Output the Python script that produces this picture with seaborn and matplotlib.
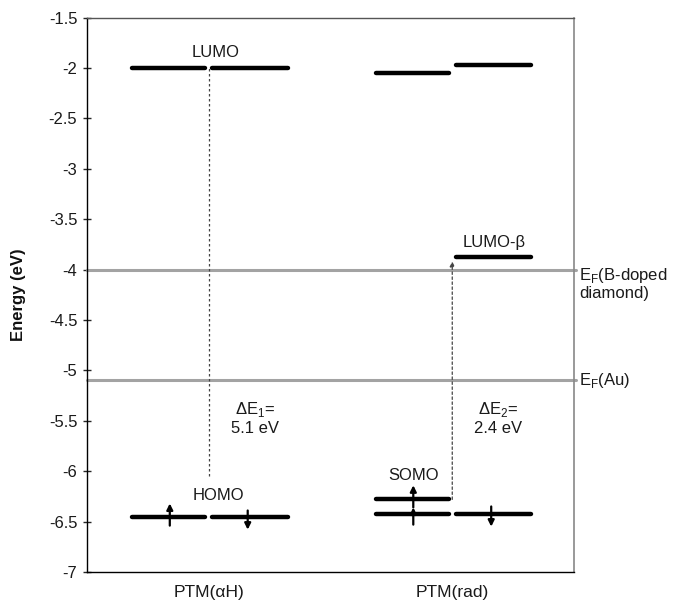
import matplotlib
matplotlib.use("Agg")
import matplotlib.pyplot as plt
import seaborn as sns
import pandas as pd
import numpy as np

# ---- data ----
categories = ["PTM(αH)", "PTM(rad)"]
level_names = ["LUMO-a", "LUMO-b", "HOMO-a", "HOMO-b",
               "LUMOa-rad", "LUMOb-rad", "LUMO-beta", "SOMO", "low-a-rad", "low-b-rad"]
level_cat = [0, 0, 0, 0, 1, 1, 1, 1, 1, 1]
level_side = ["L", "R", "L", "R", "L", "R", "R", "L", "L", "R"]
level_energy = [-2.0, -2.0, -6.45, -6.45, -2.05, -1.97, -3.88, -6.28, -6.42, -6.42]

fermi_levels = [-4.0, -5.1]
fermi_labels = ["E$_\\mathregular{F}$(B-doped\ndiamond)", "E$_\\mathregular{F}$(Au)"]

electron_cat = [0, 0, 1, 1, 1]
electron_side = ["L", "R", "L", "L", "R"]
electron_start = [-6.54, -6.39, -6.53, -6.36, -6.35]
electron_end = [-6.32, -6.58, -6.36, -6.14, -6.55]

gap_cat = [0, 1]
gap_bottom = [-6.05, -6.28]
gap_top = [-2.0, -3.92]
gap_labels = ["ΔE$_\\mathregular{1}$=\n5.1 eV", "ΔE$_\\mathregular{2}$=\n2.4 eV"]

level_labels = ["LUMO", "HOMO", "LUMO-β", "SOMO"]
level_label_cat = [0, 0, 1, 1]
level_label_dx = [0.03, 0.04, 0.17, -0.16]
level_label_y = [-1.85, -6.24, -3.73, -6.04]

yticks = [-1.5, -2, -2.5, -3, -3.5, -4, -4.5, -5, -5.5, -6, -6.5, -7]
ytick_labels = ["-1.5", "-2", "-2.5", "-3", "-3.5", "-4", "-4.5", "-5", "-5.5", "-6", "-6.5", "-7"]

# ---- style ----
sns.set_theme(style="white")
plt.rcParams["font.family"] = ["Liberation Sans", "DejaVu Sans"]
plt.rcParams["mathtext.fontset"] = "custom"
plt.rcParams["mathtext.rm"] = "Liberation Sans"

FS = 12
fig = plt.figure(figsize=(6.82, 6.02), dpi=100)
ax = fig.add_axes([87 / 682, 1 - 572 / 602, (574 - 87) / 682, (572 - 17.5) / 602])

side_span = {"L": (-0.315, -0.015), "R": (0.015, 0.325)}
side_center = {"L": -0.16, "R": 0.16}

rows = []
for name, c, s, e in zip(level_names, level_cat, level_side, level_energy):
    x0, x1 = side_span[s]
    rows.append({"level": name, "x": c + 1 + x0, "E": e})
    rows.append({"level": name, "x": c + 1 + x1, "E": e})
df = pd.DataFrame(rows)

sns.lineplot(data=df, x="x", y="E", units="level", estimator=None,
             color="black", lw=3.2, solid_capstyle="round", ax=ax, legend=False)

# Fermi levels
for e, lab in zip(fermi_levels, fermi_labels):
    ax.axhline(e, color="#a3a3a3", lw=2.2, zorder=1, xmax=1.005, clip_on=False)
    ax.text(1.01, e + 0.04 if "\n" in lab else e, lab, transform=ax.get_yaxis_transform(),
            ha="left", va="top" if "\n" in lab else "center", fontsize=FS,
            linespacing=1.15, color="#1a1a1a")

# gap dashed lines
for c, b, t, lab in zip(gap_cat, gap_bottom, gap_top, gap_labels):
    x = c + 1
    if c == 1:
        ax.annotate("", xy=(x, t), xytext=(x, b),
                    arrowprops=dict(arrowstyle="-|>", lw=0.9, ls=(0, (2, 2)),
                                    color="#444444", mutation_scale=7, shrinkA=0, shrinkB=0))
    else:
        ax.plot([x, x], [b, t], color="#444444", lw=0.9, ls=(0, (2, 2)))
    ax.text(x + 0.19, -5.47, lab, ha="center", va="center", fontsize=FS,
            linespacing=1.2, color="#1a1a1a")

# electrons
for c, s, a, b in zip(electron_cat, electron_side, electron_start, electron_end):
    x = c + 1 + side_center[s]
    ax.annotate("", xy=(x, b), xytext=(x, a),
                arrowprops=dict(arrowstyle="-|>", lw=1.6, color="black",
                                mutation_scale=9, shrinkA=0, shrinkB=0))

# level labels
for lab, c, dx, y in zip(level_labels, level_label_cat, level_label_dx, level_label_y):
    ax.text(c + 1 + dx, y, lab, ha="center", va="center", fontsize=FS, color="#1a1a1a")

ax.set_xlim(0.5, 2.5)
ax.set_ylim(-7, -1.5)
ax.set_xticks([1, 2])
ax.set_xticklabels(categories, fontsize=12.5, color="#1a1a1a")
ax.set_yticks(yticks)
ax.set_yticklabels(ytick_labels, fontsize=FS, color="#1a1a1a")
ax.set_xlabel("")
ax.set_ylabel("Energy (eV)", fontsize=12, fontweight="bold", color="#111111")
ax.yaxis.set_label_coords(-0.125, 0.5)
ax.tick_params(axis="x", length=0, pad=9)
ax.tick_params(axis="y", length=6, width=1, direction="inout", left=True, pad=4)

for sp in ["left", "bottom"]:
    ax.spines[sp].set_color("black")
    ax.spines[sp].set_linewidth(1.0)
ax.spines["top"].set_color("#555555")
ax.spines["right"].set_color("#888888")
ax.spines["top"].set_linewidth(1.0)
ax.spines["right"].set_linewidth(1.2)

fig.savefig("out.png", dpi=100)
